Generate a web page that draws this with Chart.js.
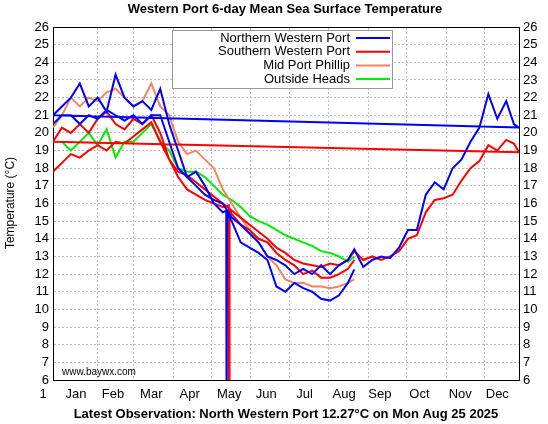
<!DOCTYPE html>
<html><head><meta charset="utf-8">
<script src="https://cdn.jsdelivr.net/npm/chart.js@4"></script>
<style>body{margin:0;background:#fff}#w{width:548px;height:424px}</style>
</head><body><div id="w"><canvas id="c"></canvas></div>
<script>
const days = [1,8,15,22,29,36,43,50,57,64,71,78,85,92,99,106,113,120,127,134,141,148,155,162,169,176,183,190,197,204,211,218,225,232,237];
const daysLate = [244,251,258,265,272,279,286,293,300,307,314,321,328,335,342,349,356,362,366];
const northPrev = [20.5,21.0,21.0,20.5,21.0,20.8,21.3,21.0,20.7,21.0,20.5,21.0,21.0,19.5,18.0,17.5,17.0,16.5,16.2,16.0,15.2,14.8,14.3,13.8,13.0,12.8,12.5,12.0,12.3,12.0,12.5,12.0,12.5,12.8,13.4];
const northPrevLate = [12.4,12.8,13.0,12.9,13.5,14.5,14.5,16.5,17.2,16.8,18.0,18.5,19.5,20.3,22.2,20.8,21.8,20.5,20.3];
const northCur = [21.0,21.5,22.0,22.8,21.5,22.0,21.2,23.3,22.0,21.5,21.8,21.3,22.5,20.5,19.0,17.5,17.8,17.0,16.0,15.5,15.0,13.8,13.5,13.2,12.8,11.3,11.0,11.5,11.2,11.0,10.6,10.5,10.8,11.5,12.27];
const southPrev = [17.8,18.3,18.8,18.6,19.0,19.3,19.0,19.5,19.4,19.8,20.2,20.6,19.5,18.5,17.8,17.6,17.2,16.8,16.4,16.0,15.6,15.2,14.8,14.4,14.0,13.5,13.2,12.8,12.6,12.5,12.4,12.6,12.5,12.8,13.3];
const southPrevLate = [12.8,13.0,12.8,13.0,13.3,14.0,14.2,15.5,16.2,16.3,16.5,17.3,18.0,18.4,19.3,19.0,19.6,19.4,18.9];
const southCur = [19.5,20.3,20.0,20.5,20.0,20.8,21.2,20.5,20.2,20.8,20.5,21.0,20.0,18.5,17.5,16.8,16.5,16.2,16.0,15.8,15.4,14.8,14.5,14.0,13.8,13.2,12.8,12.5,12.0,12.2,11.8,11.8,12.0,12.3,12.8];
const midPort = [20.3,21.0,22.0,21.5,22.0,21.8,22.3,22.5,22.0,21.5,21.8,22.8,21.5,21.0,19.5,18.8,19.0,18.5,18.0,16.8,16.0,15.2,14.5,13.8,13.0,12.5,11.7,11.5,11.5,11.3,11.3,11.2,11.3,11.5,11.7];
const outside = [null,19.5,19.0,19.5,20.0,19.3,20.2,18.6,19.5,19.5,20.0,20.5,19.5,19.0,18.0,17.8,17.8,17.5,17.0,16.5,16.2,15.8,15.3,15.0,14.8,14.5,14.2,14.0,13.8,13.6,13.3,13.2,13.0,12.7,13.0];
const dropNorth = {day:137, value:0, before:15.6, after:15.4};
const dropSouth = {day:139, value:0, before:15.9, after:15.7};
const seriesNames = ['Northern Western Port','Southern Western Port','Mid Port Phillip','Outside Heads'];
const colors = ['#0000ff','#ff0000','#f4845f','#00ee00'];
const monthLabels = ['Jan','Feb','Mar','Apr','May','Jun','Jul','Aug','Sep','Oct','Nov','Dec'];
const monthLabelDays = [19,48,78,108,139,168,198,229,257,288,320,349];
const gridDays = [36,64,95,125,156,186,217,248,278,309,339];
const yTicks = [6,7,8,9,10,11,12,13,14,15,16,17,18,19,20,21,22,23,24,25,26];

function pts(ds, vs){return ds.map((d,i)=>({x:d,y:vs[i]}));}
function withDrop(arr, drop){
  const out=[];let done=false;
  arr.forEach(p=>{ if(p.x>drop.day && !done){
      out.push({x:drop.day-0.3,y:drop.before},{x:drop.day,y:drop.value},{x:drop.day+0.3,y:drop.after});done=true;}
    out.push(p);});
  return out;}
const northData = pts(days,northPrev).concat(pts(daysLate,northPrevLate), withDrop(pts(days,northCur),dropNorth));
const southData = pts(days,southPrev).concat(pts(daysLate,southPrevLate), withDrop(pts(days,southCur),dropSouth));
const midData = pts(days,midPort);
const outData = pts(days,outside);

const F = "'Liberation Sans', Arial, sans-serif";
const deco = {id:'deco', afterDraw(ch){
  const c=ch.ctx; c.save();
  c.fillStyle='#000'; c.textAlign='center'; c.textBaseline='middle';
  c.font='bold 13px '+F;
  c.fillText('Western Port 6-day Mean Sea Surface Temperature', 285, 9);
  c.fillText('Latest Observation: North Western Port 12.27°C on Mon Aug 25 2025', 286, 414);
  c.font='13px '+F; c.fillText('1', 43, 394);
  c.save(); c.translate(11,203); c.rotate(-Math.PI/2); c.font='12px '+F; c.fillText('Temperature (°C)',0,0); c.restore();
  c.font='10px '+F; c.textAlign='left'; c.fillText('www.baywx.com', 62, 372);
  c.fillStyle='#fff'; c.fillRect(172,30,220,58); c.strokeStyle='#999'; c.lineWidth=1; c.strokeRect(172.5,30.5,220,58);
  c.font='13px '+F; c.textAlign='right';
  seriesNames.forEach((n,i)=>{const y=38+i*13.7; c.fillStyle='#000'; c.fillText(n,350,y);
    c.strokeStyle=colors[i]; c.lineWidth=2; c.beginPath(); c.moveTo(356,y); c.lineTo(390,y); c.stroke();});
  c.restore();
}};
const mk=(d,i)=>({data:d,borderColor:colors[i],borderWidth:2,pointRadius:0,tension:0,fill:false});
const gridStyle={color:'#bbb',lineWidth:1,drawTicks:false,tickBorderDash:[2,2]};
new Chart(document.getElementById('c'),{
  type:'line',
  data:{datasets:[mk(northData,0),mk(southData,1),mk(midData,2),mk(outData,3)]},
  options:{responsive:true,maintainAspectRatio:false,animation:false,
    layout:{padding:{top:27,left:0,right:0,bottom:0}},
    plugins:{legend:{display:false},tooltip:{enabled:false}},
    scales:{
      x:{type:'linear',min:1,max:366,position:'bottom',
        afterBuildTicks:ax=>{ax.ticks=monthLabelDays.map(v=>({value:v}));},
        afterFit:ax=>{ax.height=44;},
        grid:{display:false,drawTicks:false},border:{color:'#000',width:1},
        ticks:{autoSkip:false,maxRotation:0,padding:7,color:'#000',font:{family:F,size:13}},
      },
      xg:{type:'linear',min:1,max:366,position:'top',
        afterBuildTicks:ax=>{ax.ticks=gridDays.map(v=>({value:v}));},
        afterFit:ax=>{ax.height=0;},
        grid:gridStyle,border:{color:'#000',dash:[]},
        ticks:{display:false}},
      y:{min:6,max:26,position:'left',
        afterBuildTicks:ax=>{ax.ticks=yTicks.map(v=>({value:v}));},
        afterFit:ax=>{ax.width=53;},
        grid:gridStyle,border:{color:'#000',dash:[]},
        ticks:{autoSkip:false,padding:4,color:'#000',font:{family:F,size:13}}},
      y2:{min:6,max:26,position:'right',
        afterBuildTicks:ax=>{ax.ticks=yTicks.map(v=>({value:v}));},
        afterFit:ax=>{ax.width=29;},
        grid:{display:false,drawTicks:false},border:{color:'#000'},
        ticks:{autoSkip:false,padding:4,color:'#000',font:{family:F,size:13}}}
    }},
  plugins:[deco]
});
// month label callback
Chart.getChart('c').options.scales.x.ticks.callback=(v)=>{const i=monthLabelDays.indexOf(v);return i>=0?monthLabels[i]:'';};
Chart.getChart('c').options.scales.xg.grid.borderDash=[2,2];
Chart.getChart('c').options.scales.y.grid.borderDash=[2,2];
Chart.getChart('c').options.scales.xg.border.dash=[2,2];
Chart.getChart('c').options.scales.y.border.dash=[2,2];
Chart.getChart('c').update();
</script></body></html>
